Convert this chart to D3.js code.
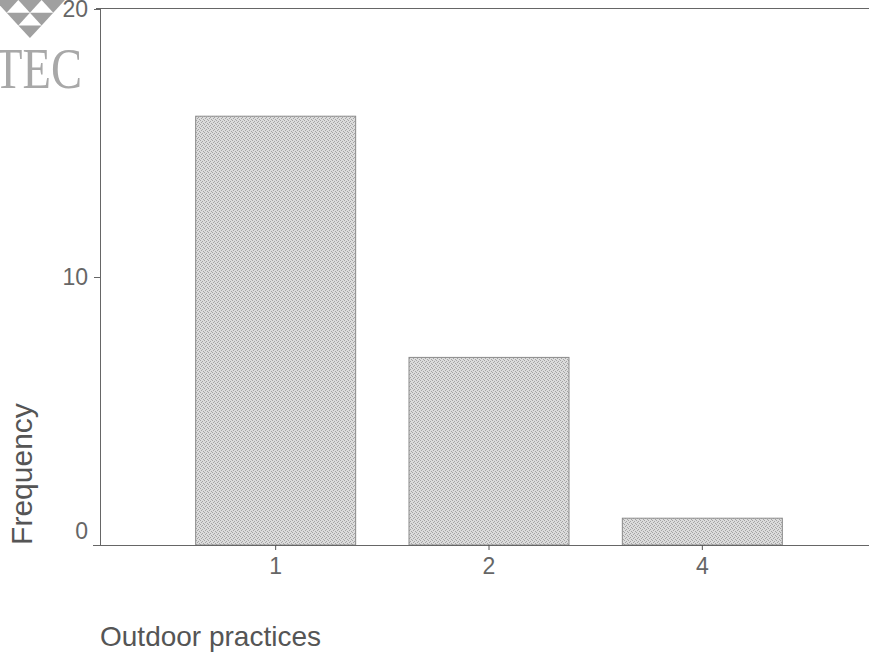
<!DOCTYPE html>
<html><head><meta charset="utf-8">
<script src="https://cdn.jsdelivr.net/npm/d3@7"></script>
<style>body{margin:0;background:#fff}svg{display:block}</style>
</head><body>
<script>
const categories = ["1", "2", "4"];
const frequencies = [16, 7, 1];
const yTicks = [0, 10, 20];
const xTitle = "Outdoor practices";
const yTitle = "Frequency";

const W = 869, H = 660;
const FONT = "Liberation Sans, Arial, sans-serif";
const svg = d3.select("body").append("svg").attr("width", W).attr("height", H);

// stipple texture for bars (decorative)
const pat = svg.append("defs").append("pattern").attr("id", "stipple")
  .attr("width", 4).attr("height", 4).attr("patternUnits", "userSpaceOnUse");
pat.append("rect").attr("width", 4).attr("height", 4).attr("fill", "#dcdcdc");
[[0,0],[2,1],[1,2],[3,3]].forEach(([px, py]) =>
  pat.append("rect").attr("x", px).attr("y", py).attr("width", 1).attr("height", 1).attr("fill", "#a4a4a4"));

const x = d3.scaleBand().domain(categories).range([169, 809]).paddingInner(0.25).paddingOuter(0.125);
const y = d3.scaleLinear().domain([0, 20]).range([545, 9]);

// logo (decorative)
const logo = svg.append("g").attr("fill", "#a0a0a0");
const tw = 23.3, th = 12.7, x0 = -5;
[[0,0],[1,0],[2,0],[0.5,1],[1.5,1],[1,2]].forEach(([c, r]) => {
  const lx = x0 + c * tw, ty = r * th;
  logo.append("path").attr("d", `M${lx},${ty} L${lx + tw},${ty} L${lx + tw / 2},${ty + th} Z`);
});
svg.append("text").attr("x", -6).attr("y", 88).attr("font-family", "Liberation Serif, serif")
  .attr("font-size", 57).attr("fill", "#a8a8a8")
  .attr("textLength", 88).attr("lengthAdjust", "spacingAndGlyphs").text("TEC");

// top frame line
svg.append("line").attr("x1", 96).attr("x2", 869).attr("y1", y(20) - 0.5).attr("y2", y(20) - 0.5).attr("stroke", "#666");

// bars
svg.append("g").selectAll("rect").data(categories).join("rect")
  .attr("x", d => x(d)).attr("width", x.bandwidth())
  .attr("y", (d, i) => y(frequencies[i])).attr("height", (d, i) => y(0) - y(frequencies[i]))
  .attr("fill", "url(#stipple)").attr("stroke", "#8a8a8a").attr("stroke-width", 1);

// y axis
const yAxis = svg.append("g").attr("transform", "translate(100,0)")
  .call(d3.axisLeft(y).tickValues(yTicks).tickSize(6).tickPadding(6).tickFormat(d3.format("d")));
yAxis.select(".domain").attr("d", "M0.5,9V545").attr("stroke", "#666");
yAxis.selectAll(".tick line").attr("stroke", "#666");
yAxis.selectAll("text").attr("font-family", FONT).attr("font-size", 23).attr("fill", "#666")
  .attr("dy", d => d === 0 ? "-0.28em" : "0.32em");

// x axis
const xAxis = svg.append("g").attr("transform", "translate(0,545)")
  .call(d3.axisBottom(x).tickSize(5).tickPadding(8).tickSizeOuter(0));
xAxis.select(".domain").attr("d", "M93,0.5H869").attr("stroke", "#666");
xAxis.selectAll(".tick line").attr("stroke", "#555");
xAxis.selectAll("text").attr("font-family", FONT).attr("font-size", 23).attr("fill", "#666");

// titles
svg.append("text").attr("x", 100).attr("y", 646).attr("font-family", FONT)
  .attr("font-size", 28).attr("fill", "#555").text(xTitle);
svg.append("text").attr("transform", "translate(32,474) rotate(-90)").attr("text-anchor", "middle")
  .attr("font-family", FONT).attr("font-size", 30).attr("fill", "#555").text(yTitle);
</script>
</body></html>
